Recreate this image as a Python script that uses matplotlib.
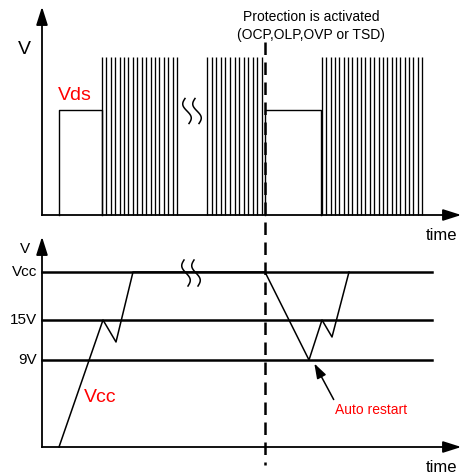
import numpy as np
import matplotlib
matplotlib.use('Agg')
import matplotlib.pyplot as plt

# top panel (Vds), pixel-like units, y grows downward
top_base = 215
vds_high = 110
pulse_top = 57
first_pulse = [59, 102]
burst1 = np.linspace(102, 177, 18)
burst2 = np.linspace(207, 262, 13)
flat2 = [265, 321]
burst3 = np.linspace(322, 422, 24)

# bottom panel (Vcc)
bot_base = 447
levels = {'Vcc': 272, '15V': 320, '9V': 360}
vcc_t = [59, 103, 116, 133, 265, 309, 322, 332, 349]
vcc_v = [447, 320, 342, 272, 272, 360, 320, 337, 272]
prot_x = 265

fig = plt.figure(figsize=(4.66, 4.75), dpi=100)
ax = fig.add_axes([0, 0, 1, 1])
ax.set_xlim(0, 466)
ax.set_ylim(475, 0)
ax.axis('off')

lw = 1.3
k = 'black'

# axes with arrows
for y0, ytop in [(top_base, 4), (bot_base, 234)]:
    ax.plot([42, 42], [y0, ytop + 14], color=k, lw=lw)
    ax.annotate('', xy=(42, ytop), xytext=(42, ytop + 16),
                arrowprops=dict(arrowstyle='-|>,head_width=0.35,head_length=1.1', color=k, lw=lw))
    ax.plot([42, 450], [y0, y0], color=k, lw=lw)
    ax.annotate('', xy=(464, y0), xytext=(446, y0),
                arrowprops=dict(arrowstyle='-|>,head_width=0.35,head_length=1.1', color=k, lw=lw))

# Vds waveform
ax.plot([first_pulse[0], first_pulse[0], first_pulse[1], first_pulse[1]],
        [top_base, vds_high, vds_high, top_base], color=k, lw=1)
ax.vlines(np.concatenate([burst1, burst2, burst3]), pulse_top, top_base, color=k, lw=0.95)
ax.plot([flat2[0], flat2[0], flat2[1], flat2[1]],
        [top_base, vds_high, vds_high, top_base], color=k, lw=1)

# threshold lines
for name, y in levels.items():
    ax.plot([42, 432], [y, y], color=k, lw=1.8)
    ax.text(37, y, name, ha='right', va='center', fontsize=11, family='Liberation Sans')

# Vcc trace
ax.plot(vcc_t, vcc_v, color=k, lw=1.1)

# break marks (S-shaped)
t = np.linspace(0, 1, 80)
for xc, yc, h in [(187, 111, 25), (186, 273, 26)]:
    for dx in [0, 10]:
        xs = xc + dx - 3.2 * np.sin(2 * np.pi * t) + 4 * (t - 0.5)
        ys = yc - h / 2 + h * t
        ax.plot(xs, ys, color=k, lw=1.1)

# protection dashed line
ax.plot([prot_x, prot_x], [42, 465], color=k, lw=1.8, dashes=(5, 3))

# arrow for auto restart
ax.annotate('', xy=(313, 361), xytext=(335, 402),
            arrowprops=dict(arrowstyle='-|>,head_width=0.3,head_length=0.9', color=k, lw=1.1))

font = 'Liberation Sans'
ax.text(311, 17, 'Protection is activated', ha='center', va='center', fontsize=10, family=font)
ax.text(311, 35, '(OCP,OLP,OVP or TSD)', ha='center', va='center', fontsize=10, family=font)
ax.text(24, 50, 'V', ha='center', va='center', fontsize=14, family=font)
ax.text(58, 95, 'Vds', ha='left', va='center', fontsize=14, color='red', family=font)
ax.text(441, 235, 'time', ha='center', va='center', fontsize=12, family=font)
ax.text(441, 467, 'time', ha='center', va='center', fontsize=12, family=font)
ax.text(25, 249, 'V', ha='center', va='center', fontsize=11, family=font)
ax.text(100, 397, 'Vcc', ha='center', va='center', fontsize=14, color='red', family=font)
ax.text(371, 410, 'Auto restart', ha='center', va='center', fontsize=10, color='red', family=font)

fig.savefig('out.png', dpi=100)
